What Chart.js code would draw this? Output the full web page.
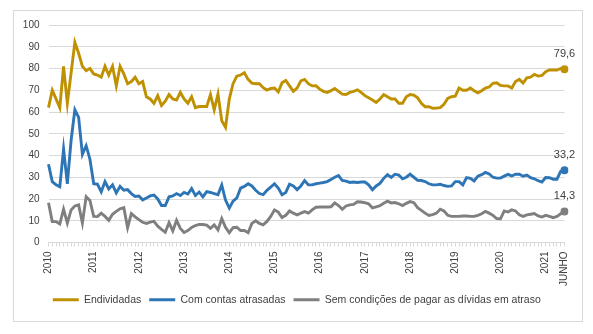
<!DOCTYPE html>
<html>
<head>
<meta charset="utf-8">
<script src="https://cdn.jsdelivr.net/npm/chart.js@4.4.1/dist/chart.umd.min.js"></script>
<style>
  html, body { margin: 0; padding: 0; background: #ffffff; }
  #wrap { position: absolute; left: 0; top: 0; width: 593px; height: 334px; }
</style>
</head>
<body>
<div id="wrap"><canvas id="c" width="593" height="334"></canvas></div>
<script>
// Monthly series, Jan 2010 .. Jun 2021 (138 months)
const seriesNames = ["Endividadas", "Com contas atrasadas", "Sem condições de pagar as dívidas em atraso"];

const endividadas = [
  62, 70, 66, 62, 81, 64, 78, 92, 87, 81, 79, 80,
  77.5, 77, 76, 81, 77, 81, 72, 81, 77.5, 73, 74, 76,
  73, 74, 67, 66, 64, 67.5, 63, 65, 68, 66, 65.5, 69,
  66, 64, 67, 62, 62.5, 62.5, 62.5, 68, 61, 68.3, 56, 53,
  66, 73, 76.5, 77, 78, 75, 73.3, 73, 73, 71.2, 70.1, 70.8,
  71, 69.2, 73.5, 74.5, 72, 69.5, 71, 74.3, 75, 73, 72, 72.1,
  70.5, 69.5, 69, 69.8, 70.8, 69.5, 68.2, 68, 69, 69.5, 70.2, 69,
  67.5, 66.5, 65.5, 64.4, 66, 68, 67, 66, 66, 64, 64, 67,
  68, 67.8, 66.5, 64, 62.4, 62.4, 61.7, 61.8, 62, 63.5, 66.3, 67,
  67.3, 71, 70, 70, 71, 69.8, 68.8, 69.8, 71, 71.5, 73.2, 73.4,
  72.2, 72, 72, 71, 74, 75, 73.3, 75.7, 76, 77.3, 76.5, 76.8,
  78.5, 79.3, 79.3, 79.3, 80, 79.6
];

const comContasAtrasadas = [
  36, 28, 26.5, 25.6, 43, 27, 47, 61, 57.5, 40.5, 44.5, 38.3,
  27, 26.8, 23.3, 28, 24.6, 26.5, 22.8, 25.8, 24, 24.3, 22.5, 21.2,
  21.4, 19.6, 20.5, 21.4, 21.8, 20, 17, 17, 21, 21.4, 22.5, 21.6,
  23, 22.3, 24.8, 21.6, 23.2, 21, 23.4, 23, 22.5, 22, 26.4, 19.5,
  15.8, 19, 20.5, 25, 25.8, 27, 26, 24, 22.5, 22, 24, 25.5,
  27, 25, 22, 23, 26.8, 26, 24.3, 26, 28.5, 26.5, 26.5, 27,
  27.3, 27.6, 28, 29, 30, 30.8, 28.5, 28.2, 27.6, 27.8, 27.6, 27.8,
  27.8, 26.5, 24.2, 26, 27.2, 29.5, 31.2, 29.9, 31.4, 31, 29.3, 30,
  31.4, 30, 28.6, 28.5, 28, 27, 26.5, 26.5, 26.8, 26.2, 25.8, 26,
  28, 28, 26.5, 29.8, 29.5, 28.3, 30.5, 31.2, 32.2, 31.5, 30, 29.6,
  29.6, 30.5, 31.3, 30.6, 31.4, 31.4, 30.5, 31, 29.8, 29.3, 28.4, 27.8,
  29.9, 29.8, 29.1, 29.1, 32.8, 33.2
];

const semCondicoes = [
  18.3, 9.6, 9.6, 8.5, 15.3, 8.9, 15, 16.8, 17.3, 9, 21, 19.3,
  12, 11.9, 13.5, 12, 10.2, 13, 14.3, 15.5, 16, 6.8, 13.3, 11.8,
  10.5, 9.3, 8.8, 9.4, 9.7, 7.5, 6, 4.7, 9.1, 5.3, 10.2, 6.5,
  4.6, 5.5, 6.9, 7.8, 8.3, 8.3, 8, 6.5, 8.1, 5.8, 11, 7,
  4.5, 6.8, 7, 5.5, 5.5, 4.5, 8.8, 10, 8.8, 8.1, 9.7, 12,
  15, 14, 11.5, 12.5, 14.5, 13.5, 12.7, 13.5, 14.2, 13.5, 15, 16.2,
  16.3, 16.4, 16.3, 16.4, 18.2, 17, 15.3, 16.8, 17.3, 17.5, 18.7, 18.6,
  18.3, 17.8, 15.9, 16.4, 16.9, 18, 19, 18.2, 18.4, 17.8, 17, 18,
  18.8, 18.3, 16, 14.8, 13.5, 12.4, 12.8, 13.5, 15.3, 14.5, 12.5, 12,
  12, 12, 12.2, 12.2, 12, 12, 12.5, 13.2, 14.3, 13.5, 12.5, 11,
  10.9, 14.5, 14, 15, 14.5, 12.7, 12, 12.7, 13, 13.3, 12.2, 11.7,
  12.5, 12, 11.4, 12, 13.2, 14.3
];

const years = ["2010","2011","2012","2013","2014","2015","2016","2017","2018","2019","2020","2021"];
const lastLabel = "JUNHO";

// Category labels: year on each January, "JUNHO" on the final month, blank elsewhere
const categories = [];
for (let i = 0; i < endividadas.length; i++) {
  if (i === endividadas.length - 1) categories.push(lastLabel);
  else if (i % 12 === 0) categories.push(years[i / 12]);
  else categories.push("");
}

const colors = ["#BF9000", "#2E75B6", "#7F7F7F"];
const FONT = "'Liberation Sans', Arial, sans-serif";

const lastIdx = endividadas.length - 1;
function mkDataset(label, data, color) {
  return {
    label: label,
    data: data,
    borderColor: color,
    backgroundColor: color,
    borderWidth: 2.9,
    tension: 0,
    pointRadius: ctx => ctx.dataIndex === lastIdx ? 4 : 0,
    pointHoverRadius: ctx => ctx.dataIndex === lastIdx ? 4 : 0,
    pointBackgroundColor: color,
    pointBorderColor: color,
    pointBorderWidth: 0
  };
}

const frame = {
  id: 'frame',
  beforeDraw(chart) {
    const c = chart.ctx;
    c.save();
    c.strokeStyle = '#d9d9d9';
    c.lineWidth = 1;
    c.strokeRect(13.5, 10.5, 569, 311);
    c.restore();
  }
};

// nudge the legend block to the right, as in the reference
const legendShift = {
  id: 'legendShift',
  afterLayout(chart) {
    if (chart.legend) {
      chart.legend.left += 8;
      chart.legend.right += 8;
    }
  }
};

const endLabels = {
  id: 'endLabels',
  afterDatasetsDraw(chart) {
    const c = chart.ctx;
    c.save();
    c.font = "11px " + FONT;
    c.fillStyle = '#404040';
    c.textAlign = 'center';
    c.textBaseline = 'middle';
    chart.data.datasets.forEach((ds, i) => {
      const meta = chart.getDatasetMeta(i);
      const el = meta.data[lastIdx];
      const v = ds.data[lastIdx];
      c.fillText(v.toFixed(1).replace('.', ','), el.x, el.y - 15);
    });
    c.restore();
  }
};

new Chart(document.getElementById('c'), {
  type: 'line',
  data: {
    labels: categories,
    datasets: [
      mkDataset(seriesNames[0], endividadas, colors[0]),
      mkDataset(seriesNames[1], comContasAtrasadas, colors[1]),
      mkDataset(seriesNames[2], semCondicoes, colors[2])
    ]
  },
  options: {
    responsive: false,
    animation: false,
    devicePixelRatio: 1,
    layout: { padding: { left: 13, right: 28.5, top: 25, bottom: 19 } },
    plugins: {
      legend: {
        position: 'bottom',
        labels: {
          usePointStyle: true,
          pointStyleWidth: 26,
          boxWidth: 26,
          boxHeight: 11,
          padding: 8,
          color: '#404040',
          font: { family: FONT, size: 10.5 },
          generateLabels(chart) {
            return chart.data.datasets.map((ds, i) => ({
              text: ds.label,
              fillStyle: ds.borderColor,
              strokeStyle: ds.borderColor,
              lineWidth: 3,
              pointStyle: 'line',
              fontColor: '#404040',
              hidden: false,
              datasetIndex: i
            }));
          }
        }
      },
      tooltip: { enabled: false }
    },
    scales: {
      x: {
        type: 'category',
        offset: false,
        afterFit(scale) { scale.height = 44; },
        grid: {
          display: true,
          drawOnChartArea: false,
          drawTicks: true,
          tickLength: 4,
          color: '#d9d9d9'
        },
        border: { display: true, color: '#d9d9d9' },
        ticks: {
          autoSkip: false,
          minRotation: 90,
          maxRotation: 90,
          padding: 5,
          color: '#404040',
          font: { family: FONT, size: 10 }
        }
      },
      y: {
        min: 0,
        max: 100,
        afterFit(scale) { scale.width = 35.5; },
        grid: { color: '#d9d9d9', drawTicks: false },
        border: { display: false },
        ticks: {
          stepSize: 10,
          padding: 9,
          color: '#404040',
          font: { family: FONT, size: 10 }
        }
      }
    }
  },
  plugins: [frame, legendShift, endLabels]
});
</script>
</body>
</html>
